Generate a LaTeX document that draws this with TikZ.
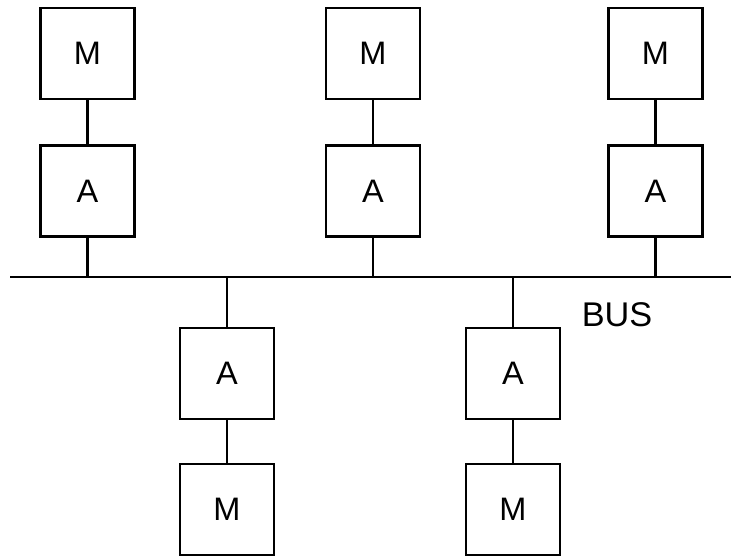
\documentclass[tikz,border=0pt]{standalone}
\usepackage{fontspec}
\setmainfont{Liberation Sans}
\usepackage{tikz}

\begin{document}
\begin{tikzpicture}[unit/.style={rectangle,draw,line width=1.6pt,minimum width=1.88cm,minimum height=1.82cm,inner sep=0pt,font=\fontsize{18.5}{20}\selectfont},line width=1.6pt]
		\useasboundingbox (0,0) rectangle (14.62,11.14);

		\node[unit] (m1) at (1.75,10.07) {M};
		\node[unit] (m2) at (7.46,10.07) {M};
		\node[unit] (m3) at (13.11,10.07) {M};
		\node[unit] (a1) at (1.75,7.32) {A};
		\node[unit] (a2) at (7.46,7.32) {A};
		\node[unit] (a3) at (13.11,7.32) {A};
		\node[unit] (a4) at (4.54,3.67) {A};
		\node[unit] (a5) at (10.26,3.67) {A};
		\node[unit] (m4) at (4.54,0.95) {M};
		\node[unit] (m5) at (10.26,0.95) {M};

		\coordinate (bl) at (0.2,5.6);
		\coordinate (br) at (14.62,5.6);
		\coordinate (b1) at (1.75,5.6);
		\coordinate (b2) at (7.46,5.6);
		\coordinate (b3) at (13.11,5.6);
		\coordinate (b4) at (4.54,5.6);
		\coordinate (b5) at (10.26,5.6);
		\node[font=\fontsize{19.5}{21}\selectfont] (bus) at (12.34,4.85) {BUS};

		\draw (bl) -- (br);
		\draw (m1) -- (a1);
		\draw (m2) -- (a2);
		\draw (m3) -- (a3);
		\draw (a1) -- (b1);
		\draw (a2) -- (b2);
		\draw (a3) -- (b3);
		\draw (a4) -- (b4);
		\draw (a5) -- (b5);
		\draw (a4) -- (m4);
		\draw (a5) -- (m5);
\end{tikzpicture}
\end{document}
